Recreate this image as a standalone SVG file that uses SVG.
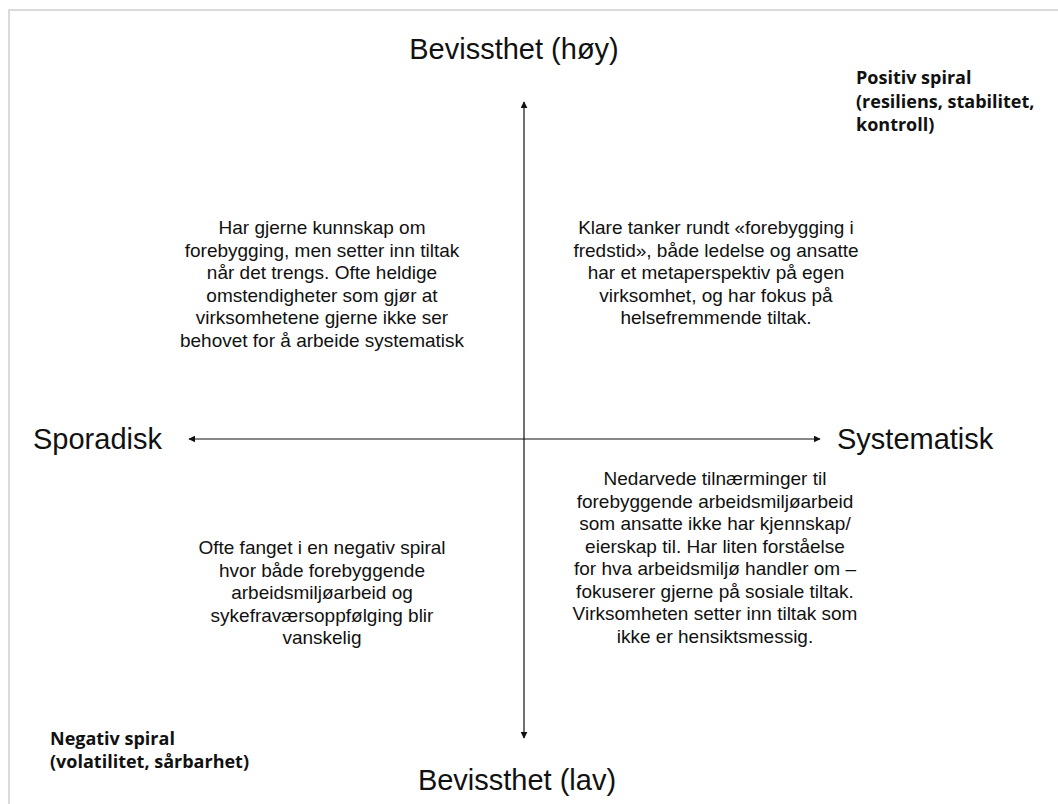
<svg xmlns="http://www.w3.org/2000/svg" width="1058" height="804" viewBox="0 0 1058 804">
  <style>
    .axis { font-family: "Liberation Sans", Arial, sans-serif; font-size: 29px; fill: #111; }
    .q { font-family: "Liberation Sans", Arial, sans-serif; font-size: 19px; fill: #111; text-anchor: middle; }
    .spiral { font-family: "Open Sans", "Liberation Sans", sans-serif; font-size: 18px; font-weight: bold; fill: #111; }
    .line { stroke: #111; stroke-width: 1.2; fill: none; }
  </style>
  <defs>
    <marker id="arrow" viewBox="0 0 10 10" refX="9" refY="5" markerWidth="7" markerHeight="7" markerUnits="userSpaceOnUse" orient="auto">
      <path d="M0,0 L10,5 L0,10 z" fill="#111"/>
    </marker>
  </defs>
  <rect width="1058" height="804" fill="#ffffff"/>
  <g id="frame">
    <path d="M9,812 L9,10 L1066,10" fill="none" stroke="#dadada" stroke-width="2"/>
  </g>
  <g id="connectors">
    <line class="line" x1="524" y1="439" x2="524" y2="102" marker-end="url(#arrow)"/>
    <line class="line" x1="524" y1="439" x2="524" y2="738" marker-end="url(#arrow)"/>
    <line class="line" x1="524" y1="439" x2="189" y2="439" marker-end="url(#arrow)"/>
    <line class="line" x1="524" y1="439" x2="820" y2="439" marker-end="url(#arrow)"/>
  </g>
  <g id="top-label"><text class="axis" x="514" y="59" text-anchor="middle">Bevissthet (høy)</text></g>
  <g id="bottom-label"><text class="axis" x="517" y="790" text-anchor="middle">Bevissthet (lav)</text></g>
  <g id="left-label"><text class="axis" x="33" y="449">Sporadisk</text></g>
  <g id="right-label"><text class="axis" x="837" y="449">Systematisk</text></g>
  <g id="positive-spiral">
    <text class="spiral" x="856" y="84">Positiv spiral</text>
    <text class="spiral" x="856" y="108">(resiliens, stabilitet,</text>
    <text class="spiral" x="856" y="131">kontroll)</text>
  </g>
  <g id="negative-spiral">
    <text class="spiral" x="50" y="745">Negativ spiral</text>
    <text class="spiral" x="50" y="768">(volatilitet, sårbarhet)</text>
  </g>
  <g id="q-top-left">
    <text class="q" x="322" y="234">Har gjerne kunnskap om</text>
    <text class="q" x="322" y="256.5">forebygging, men setter inn tiltak</text>
    <text class="q" x="322" y="279">når det trengs. Ofte heldige</text>
    <text class="q" x="322" y="301.5">omstendigheter som gjør at</text>
    <text class="q" x="322" y="324">virksomhetene gjerne ikke ser</text>
    <text class="q" x="322" y="346.5">behovet for å arbeide systematisk</text>
  </g>
  <g id="q-top-right">
    <text class="q" x="716" y="234">Klare tanker rundt «forebygging i</text>
    <text class="q" x="716" y="256.5">fredstid», både ledelse og ansatte</text>
    <text class="q" x="716" y="279">har et metaperspektiv på egen</text>
    <text class="q" x="716" y="301.5">virksomhet, og har fokus på</text>
    <text class="q" x="716" y="324">helsefremmende tiltak.</text>
  </g>
  <g id="q-bottom-left">
    <text class="q" x="322" y="554">Ofte fanget i en negativ spiral</text>
    <text class="q" x="322" y="576.5">hvor både forebyggende</text>
    <text class="q" x="322" y="599">arbeidsmiljøarbeid og</text>
    <text class="q" x="322" y="621.5">sykefraværsoppfølging blir</text>
    <text class="q" x="322" y="644">vanskelig</text>
  </g>
  <g id="q-bottom-right">
    <text class="q" x="715" y="485">Nedarvede tilnærminger til</text>
    <text class="q" x="715" y="507.5">forebyggende arbeidsmiljøarbeid</text>
    <text class="q" x="715" y="530">som ansatte ikke har kjennskap/</text>
    <text class="q" x="715" y="552.5">eierskap til. Har liten forståelse</text>
    <text class="q" x="715" y="575">for hva arbeidsmiljø handler om –</text>
    <text class="q" x="715" y="597.5">fokuserer gjerne på sosiale tiltak.</text>
    <text class="q" x="715" y="620">Virksomheten setter inn tiltak som</text>
    <text class="q" x="715" y="642.5">ikke er hensiktsmessig.</text>
  </g>
</svg>
